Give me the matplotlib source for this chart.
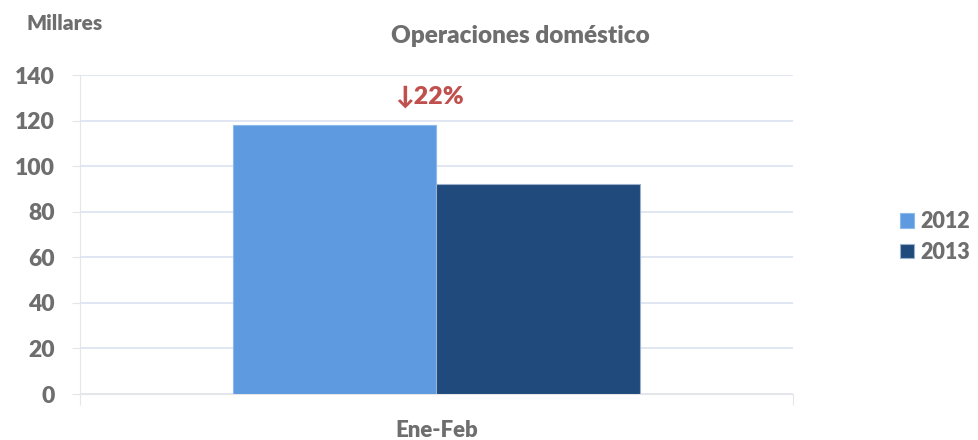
import numpy as np
import matplotlib

matplotlib.use("Agg")
import matplotlib.pyplot as plt

plt.rcParams["font.family"] = ["Lato", "DejaVu Sans"]
plt.rcParams["font.weight"] = "heavy"

categories = ["Ene-Feb"]
years = ["2012", "2013"]
values_2012 = [118]
values_2013 = [92]
change_label = "↓22%"

gray = "#6E6E6E"
colors = ["#5D9AE0", "#204A7C"]
W = "heavy"

fig = plt.figure(figsize=(9.79, 4.40), dpi=100)
ax = fig.add_axes([80 / 979, 1 - 394 / 440, (793 - 80) / 979, (394 - 75) / 440])

x = np.arange(len(categories))
w = 0.285
ax.bar(x - w / 2, values_2012, w, color=colors[0], edgecolor="#8DB8EA", linewidth=0.8, label=years[0], zorder=3)
ax.bar(x + w / 2, values_2013, w, color=colors[1], edgecolor="#9BB0CC", linewidth=0.8, label=years[1], zorder=3)

ax.set_xlim(-0.5, 0.5)
ax.set_ylim(0, 140)
ax.set_yticks(np.arange(0, 141, 20))
ax.yaxis.grid(True, color="#DCE3F0", linewidth=1.2, zorder=0)
ax.tick_params(axis="y", length=6, color="#E6E6E6", labelsize=16.5, labelcolor=gray, pad=12)
for lab in ax.get_yticklabels():
    lab.set_fontweight(W)

ax.set_xticks([-0.5, 0.5])
ax.set_xticklabels(["", ""])
ax.tick_params(axis="x", length=8, color="#E6E6E6")
ax.set_xticks(x, minor=True)
ax.set_xticklabels(categories, minor=True, fontsize=16, color=gray, fontweight=W)
ax.tick_params(axis="x", which="minor", length=0, pad=19)

for side in ["top", "right"]:
    ax.spines[side].set_visible(False)
ax.spines["left"].set_color("#E6E6E6")
ax.spines["bottom"].set_color("#E6E6E6")
ax.spines["left"].set_zorder(1)

ax.text(-0.01, values_2012[0] + 7.5, change_label, ha="center", va="bottom",
        fontsize=18, color="#C0504D", fontweight=W, family=["Lato", "DejaVu Sans"])

fig.text(520 / 979, 1 - 36 / 440, "Operaciones doméstico", ha="center", va="center",
         fontsize=17.5, color=gray, fontweight=W)
fig.text(65 / 979, 1 - 23 / 440, "Millares", ha="center", va="center",
         fontsize=15, color=gray, fontweight=W)

leg = fig.legend(loc="center left", bbox_to_anchor=(900 / 979, 1 - 237 / 440), frameon=False,
                 fontsize=15.5, handlelength=0.65, handleheight=0.65, handletextpad=0.3,
                 labelspacing=0.45, borderaxespad=0, borderpad=0)
for t in leg.get_texts():
    t.set_color(gray)
    t.set_fontweight(W)

fig.savefig("out.png", dpi=100)
plt.close(fig)
